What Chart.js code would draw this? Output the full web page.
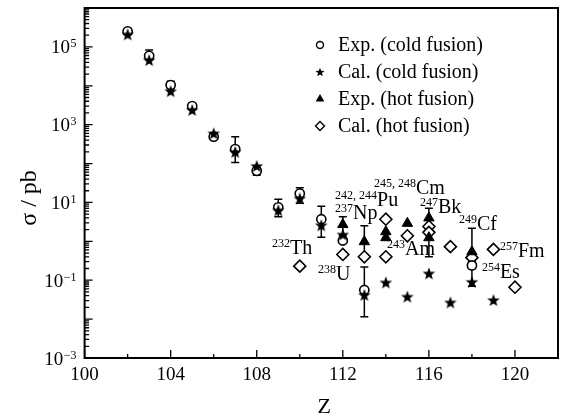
<!DOCTYPE html>
<html><head><meta charset="utf-8">
<script src="https://cdn.jsdelivr.net/npm/chart.js@4.4.0/dist/chart.umd.min.js"></script>
<style>html,body{margin:0;padding:0;background:#fff;}canvas{display:block}</style>
</head><body>
<canvas id="c" width="570" height="417"></canvas>
<script>
// ---- data ----
const zColdExp = [102,103,104,105,106,107,108,109,110,111,112,113,118];
const sColdExp = [2.5e5,5.9e4,1.04e4,3.0e3,490,235,65,7.5,17,3.7,1.05,0.056,0.24];
const coldExpLo = [null,4.6e4,8.5e3,null,420,107,50,4.3,9.5,1.27,null,0.0115,0.07];
const coldExpHi = [null,8.3e4,1.3e4,null,600,490,80,12,24,8,null,0.22,0.3];

const zColdCal = [102,103,104,105,106,107,108,109,110,111,112,113,114,115,116,117,118,119];
const sColdCal = [2.1e5,4.6e4,7.3e3,2.4e3,600,200,87,6.3,12.7,2.6,1.5,0.042,0.088,0.038,0.15,0.027,0.091,0.031];

const zHotExp = [112,113,114,114,115,116,116,118];
const sHotExp = [2.7,0.98,1.77,1.24,2.9,4.0,1.24,0.54];
const hotExpLo = [1.4,0.4,null,null,null,2.0,0.40,0.2];
const hotExpHi = [4.3,2.5,null,null,null,7.05,2.2,2.16];

const zHotCal = [110,112,113,114,114,115,116,116,117,118,119,120];
const sHotCal = [0.23,0.46,0.40,3.7,0.40,1.39,2.4,1.70,0.73,0.38,0.62,0.066];

const xTickLabels = [100,104,108,112,116,120];
const yLabelExps = [5,3,1,-1,-3];

const legendNames = ['Exp. (cold fusion)','Cal. (cold fusion)','Exp. (hot fusion)','Cal. (hot fusion)'];

// target annotations (mass number, element) anchored in data coordinates
const labSup = ['232','238','237','242, 244','245, 248','247','249','243','257','254'];
const labEl  = ['Th','U','Np','Pu','Cm','Bk','Cf','Am','Fm','Es'];
const labZ   = [109.55,111.68,112.47,113.59,115.40,116.42,118.23,114.89,120.14,119.30];
const labS   = [0.472,0.101,3.74,8.08,16.4,5.34,1.95,0.445,0.394,0.114];

// ---- styling ----
const FONT = "'Liberation Serif','Times New Roman',serif";
function starCanvas(R){
  const s = Math.ceil(R*2+2);
  const c = document.createElement('canvas'); c.width = s; c.height = s;
  const g = c.getContext('2d'); g.fillStyle = '#000'; g.beginPath();
  const cx = s/2, cy = s/2 + R*0.1;
  for (let i=0;i<10;i++){
    const r = (i%2) ? R*0.42 : R;
    const a = -Math.PI/2 + i*Math.PI/5;
    g.lineTo(cx + r*Math.cos(a), cy + r*Math.sin(a));
  }
  g.closePath(); g.fill();
  return c;
}
const starBig = starCanvas(6.6);
const starSmall = starCanvas(4.8);

function pts(zs, ss){ return zs.map((z,i)=>({x:z, y:ss[i]})); }

const deco = {
  id:'deco',
  beforeDatasetsDraw(chart){
    const ctx = chart.ctx, xs = chart.scales.x, ys = chart.scales.y;
    ctx.save(); ctx.strokeStyle = '#000'; ctx.lineWidth = 1.5;
    function bars(zs, lo, hi){
      zs.forEach((z,i)=>{
        if (lo[i]==null) return;
        const x = xs.getPixelForValue(z), y1 = ys.getPixelForValue(lo[i]), y2 = ys.getPixelForValue(hi[i]);
        ctx.beginPath();
        ctx.moveTo(x,y1); ctx.lineTo(x,y2);
        ctx.moveTo(x-4,y1); ctx.lineTo(x+4,y1);
        ctx.moveTo(x-4,y2); ctx.lineTo(x+4,y2);
        ctx.stroke();
      });
    }
    bars(zColdExp, coldExpLo, coldExpHi);
    bars(zHotExp, hotExpLo, hotExpHi);
    ctx.restore();
  },
  afterDraw(chart){
    const ctx = chart.ctx, xs = chart.scales.x, ys = chart.scales.y, a = chart.chartArea;
    ctx.save();
    // frame
    ctx.strokeStyle = '#000'; ctx.lineWidth = 2;
    ctx.strokeRect(a.left, a.top, a.right-a.left, a.bottom-a.top);
    // y ticks (inward)
    ctx.lineWidth = 1.3;
    ctx.beginPath();
    for (let e=-3; e<=6; e++){
      for (let m=1; m<=9; m++){
        if (e===6 && m>1) break;
        const v = m*Math.pow(10,e);
        const y = ys.getPixelForValue(v);
        const len = (m===1) ? 8 : 4.5;
        ctx.moveTo(a.left, y); ctx.lineTo(a.left+len, y);
      }
    }
    // x ticks
    for (let z=100; z<=122; z+=2){
      const x = xs.getPixelForValue(z);
      const len = (z%4===0) ? 8 : 4;
      ctx.moveTo(x, a.bottom); ctx.lineTo(x, a.bottom-len);
    }
    ctx.stroke();
    // x tick labels
    ctx.fillStyle = '#000';
    ctx.font = '19px ' + FONT; ctx.textAlign = 'center'; ctx.textBaseline = 'alphabetic';
    xTickLabels.forEach(v=>{ ctx.fillText(String(v), xs.getPixelForValue(v), a.bottom+22); });
    // y tick labels 10^n
    yLabelExps.forEach(e=>{
      const y = ys.getPixelForValue(Math.pow(10,e));
      const sup = (e<0 ? '\u2212' : '') + Math.abs(e);
      ctx.font = '12px ' + FONT; const ws = ctx.measureText(sup).width;
      ctx.font = '19px ' + FONT; const wb = ctx.measureText('10').width;
      const right = a.left - 8;
      ctx.textAlign = 'left';
      ctx.fillText('10', right - ws - wb - 0.5, y + 6.5);
      ctx.font = '12px ' + FONT;
      ctx.fillText(sup, right - ws, y + 0.5);
    });
    // axis titles
    ctx.font = '22px ' + FONT; ctx.textAlign = 'center';
    ctx.fillText('Z', (a.left+a.right)/2 + 3, 413);
    ctx.save();
    ctx.translate(36, 198); ctx.rotate(-Math.PI/2);
    ctx.font = '24px ' + FONT; ctx.textAlign = 'center';
    ctx.fillText('\u03C3 / pb', 0, 0);
    ctx.restore();
    // legend
    const lx = 320, ly0 = 45, dy = 27;
    ctx.font = '20px ' + FONT; ctx.textAlign = 'left'; ctx.textBaseline = 'middle';
    legendNames.forEach((t,i)=>{
      const y = ly0 + i*dy;
      ctx.lineWidth = 1.4; ctx.strokeStyle = '#000'; ctx.fillStyle = '#000';
      ctx.beginPath();
      if (i===0){ ctx.arc(lx, y, 3.5, 0, Math.PI*2); ctx.stroke(); }
      else if (i===1){ ctx.drawImage(starSmall, lx - starSmall.width/2, y - starSmall.height/2); }
      else if (i===2){ const r=5; ctx.moveTo(lx, y-r); ctx.lineTo(lx+r*0.866, y+r*0.5); ctx.lineTo(lx-r*0.866, y+r*0.5); ctx.closePath(); ctx.fill(); }
      else { const r=4.5; ctx.moveTo(lx-r,y); ctx.lineTo(lx,y-r); ctx.lineTo(lx+r,y); ctx.lineTo(lx,y+r); ctx.closePath(); ctx.stroke(); }
      ctx.fillStyle = '#000';
      ctx.fillText(t, 338, y + 1);
    });
    // annotations
    ctx.textBaseline = 'alphabetic';
    labEl.forEach((el,i)=>{
      const x = xs.getPixelForValue(labZ[i]), y = ys.getPixelForValue(labS[i]);
      ctx.font = '20px ' + FONT; ctx.textAlign = 'left';
      ctx.fillText(el, x, y);
      ctx.font = '12px ' + FONT; ctx.textAlign = 'right';
      ctx.fillText(labSup[i], x, y - 7);
    });
    ctx.restore();
  }
};

new Chart(document.getElementById('c'), {
  type: 'scatter',
  data: { datasets: [
    { label: legendNames[1], data: pts(zColdCal, sColdCal), pointStyle: starBig, pointRadius: 7, order: 0 },
    { label: legendNames[2], data: pts(zHotExp, sHotExp), pointStyle: 'triangle', pointRadius: 6,
      backgroundColor: '#000', borderColor: '#000', borderWidth: 1, order: 1 },
    { label: legendNames[0], data: pts(zColdExp, sColdExp), pointStyle: 'circle', pointRadius: 4.6,
      backgroundColor: '#fff', borderColor: '#000', borderWidth: 1.6, order: 2 },
    { label: legendNames[3], data: pts(zHotCal, sHotCal), pointStyle: 'rectRot', pointRadius: 6,
      backgroundColor: '#fff', borderColor: '#000', borderWidth: 1.6, order: 3 }
  ]},
  options: {
    responsive: false, animation: false, devicePixelRatio: 1, events: [],
    layout: { padding: { top: 8, right: 12, left: 0, bottom: 0 } },
    plugins: { legend: { display: false }, tooltip: { enabled: false } },
    scales: {
      x: { type: 'linear', min: 100, max: 122, grid: { display: false }, border: { display: false },
           ticks: { display: false }, afterFit(s){ s.height = 59; } },
      y: { type: 'logarithmic', min: 1e-3, max: 1e6, grid: { display: false }, border: { display: false },
           ticks: { display: false }, afterFit(s){ s.width = 84.6; } }
    }
  },
  plugins: [deco]
});
</script>
</body></html>
